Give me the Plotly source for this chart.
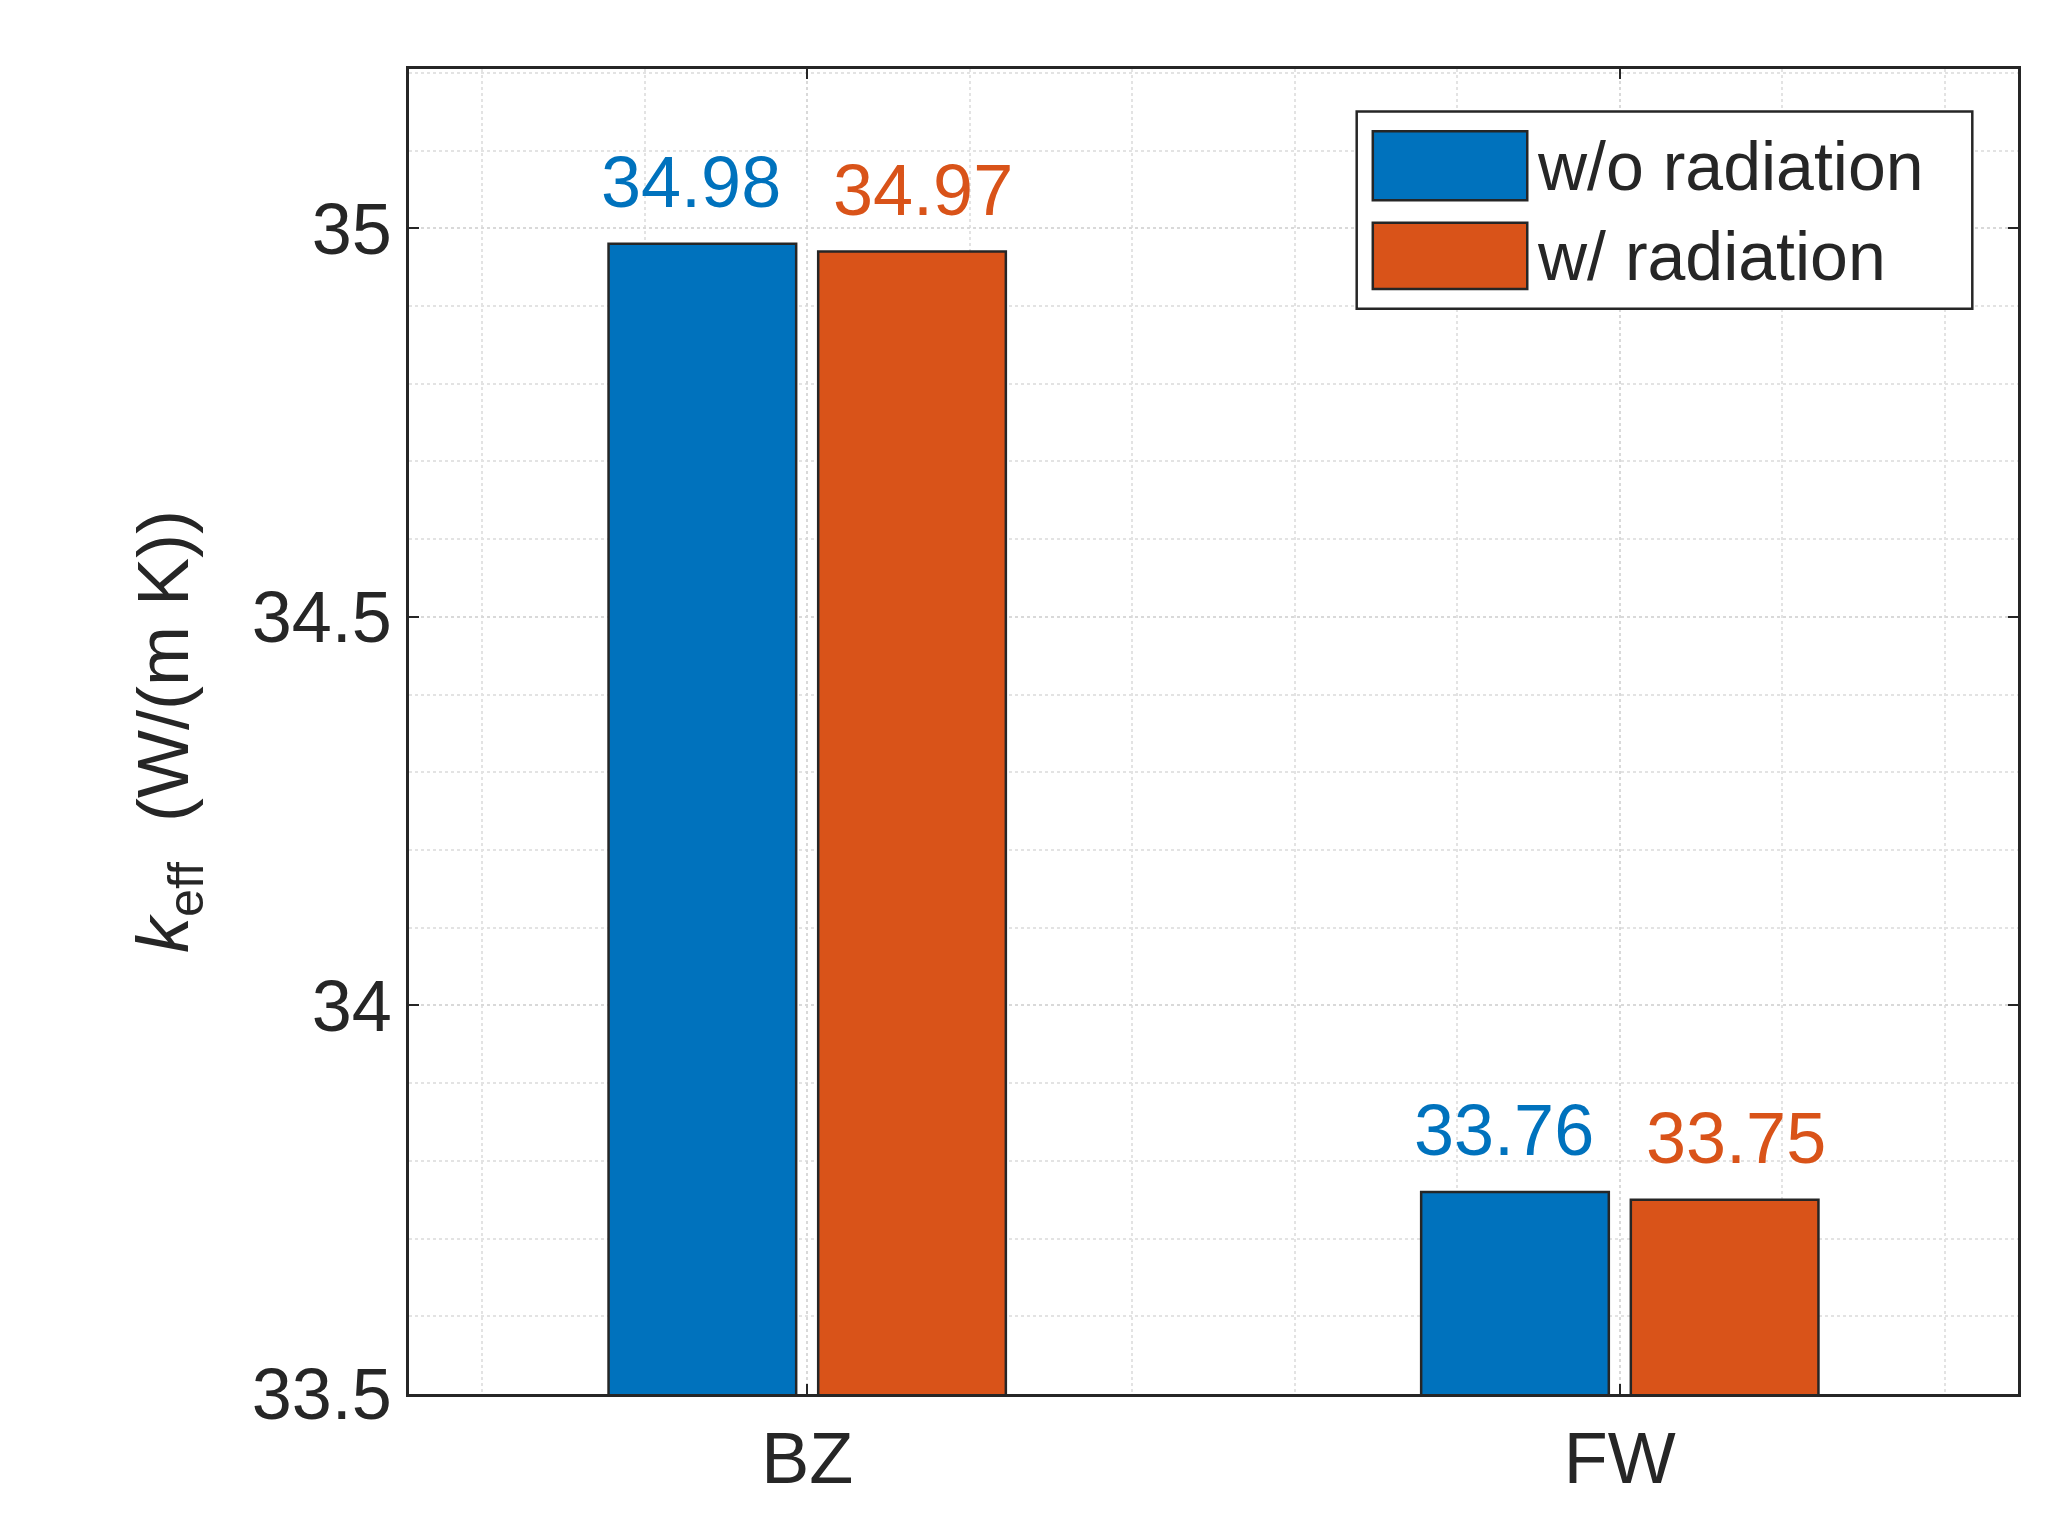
import plotly.graph_objects as go

categories = ["BZ", "FW"]
series_names = ["w/o radiation", "w/ radiation"]
wo_rad = [34.98, 33.76]
w_rad = [34.97, 33.75]
labels_wo = ["34.98", "33.76"]
labels_w = ["34.97", "33.75"]
xpos = [1, 2]

blue = "#0072BD"
orange = "#D95319"
edge = "#262626"
FONT = "Liberation Sans"

fig = go.Figure()
fig.add_bar(x=xpos, y=wo_rad, name=series_names[0], showlegend=False,
            marker=dict(color=blue, line=dict(color=edge, width=2.5)))
fig.add_bar(x=xpos, y=w_rad, name=series_names[1], showlegend=False,
            marker=dict(color=orange, line=dict(color=edge, width=2.5)))

off = 0.143
for xi, v, t in zip(xpos, wo_rad, labels_wo):
    fig.add_annotation(x=xi - off, y=v, text=t, showarrow=False, yanchor="bottom", yshift=20,
                       font=dict(color=blue, size=72, family=FONT))
for xi, v, t in zip(xpos, w_rad, labels_w):
    fig.add_annotation(x=xi + off, y=v, text=t, showarrow=False, yanchor="bottom", yshift=20,
                       font=dict(color=orange, size=72, family=FONT))

# manual legend (MATLAB style large swatches)
fig.add_shape(type="rect", xref="paper", yref="paper", x0=0.589, x1=0.9716, y0=0.819, y1=0.968,
              fillcolor="white", line=dict(color=edge, width=2.5))
for name, col, y0, y1 in [(series_names[0], blue, 0.901, 0.953), (series_names[1], orange, 0.834, 0.884)]:
    fig.add_shape(type="rect", xref="paper", yref="paper", x0=0.599, x1=0.695, y0=y0, y1=y1,
                  fillcolor=col, line=dict(color=edge, width=2.5))
    fig.add_annotation(xref="paper", yref="paper", x=0.700, y=(y0 + y1) / 2, text=name,
                       showarrow=False, xanchor="left", yanchor="middle",
                       font=dict(size=68, color=edge, family=FONT))

axis_common = dict(showline=True, linecolor=edge, linewidth=2.5, mirror="ticks",
                   ticks="inside", ticklen=10, tickcolor=edge, tickwidth=2,
                   gridcolor="#d9d9d9", griddash="dot", gridwidth=2, zeroline=False,
                   tickfont=dict(size=72, color=edge, family=FONT))

fig.update_layout(
    width=2056, height=1523, plot_bgcolor="white", paper_bgcolor="white",
    margin=dict(l=401, r=46, t=61, b=137),
    barmode="group", bargap=0.484, bargroupgap=0.105,
    font=dict(family=FONT, color=edge),
    showlegend=False,
    xaxis=dict(range=[0.51, 2.49], tickvals=xpos, ticktext=categories,
               minor=dict(dtick=0.2, tick0=0.6, showgrid=True, gridcolor="#e3e3e3", griddash="dot", gridwidth=2, ticks=""),
               **axis_common),
    yaxis=dict(range=[33.5, 35.205], tickvals=[33.5, 34, 34.5, 35], ticktext=["33.5", "34", "34.5", "35"],
               minor=dict(dtick=0.1, showgrid=True, gridcolor="#e3e3e3", griddash="dot", gridwidth=2, ticks=""),
               title=dict(text="<i>k</i><sub>eff</sub>  (W/(m K))", font=dict(size=72, color=edge), standoff=40),
               **axis_common),
)
fig.write_html("out.html")
